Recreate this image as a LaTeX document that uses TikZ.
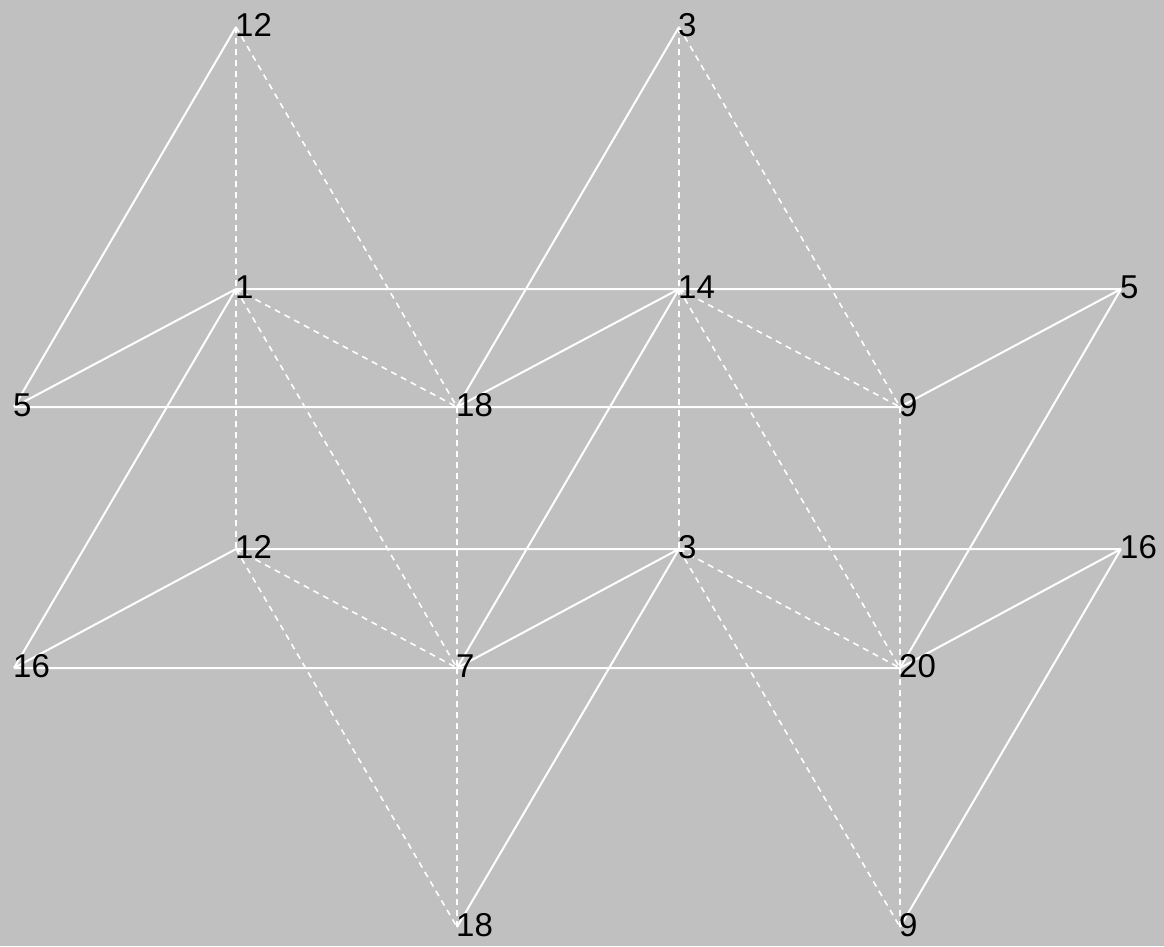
\documentclass[tikz,border=0pt]{standalone}
\usepackage{fontspec}
\setmainfont{Liberation Sans}
\definecolor{bg}{HTML}{C0C0C0}
\begin{document}
\begin{tikzpicture}[x=1pt,y=-1pt,
  solidedge/.style={draw=white,line width=2pt},
  dashedge/.style={draw=white,line width=1.6pt,dash pattern=on 6pt off 5pt},
  lab/.style={anchor=west,inner sep=0pt,font=\fontsize{33}{36}\selectfont,text=black,yshift=2pt,xshift=-1pt}]
\fill[bg] (0,0) rectangle (1164,946);
\useasboundingbox (0,0) rectangle (1164,946);
% vertices
\coordinate (A) at (236,27);
\coordinate (B) at (679,27);
\coordinate (C) at (236,289);
\coordinate (D) at (679,289);
\coordinate (E) at (1121,289);
\coordinate (F) at (14,407);
\coordinate (G) at (457,407);
\coordinate (H) at (900,407);
\coordinate (I) at (236,549);
\coordinate (J) at (679,549);
\coordinate (K) at (1121,549);
\coordinate (L) at (14,668);
\coordinate (M) at (457,668);
\coordinate (N) at (900,668);
\coordinate (O) at (457,927);
\coordinate (P) at (900,927);
% dashed edges
\path[dashedge] (A) -- (C) (A) -- (G) (B) -- (D) (B) -- (H)
  (C) -- (G) (D) -- (H) (C) -- (I) (C) -- (M) (D) -- (J) (D) -- (N)
  (G) -- (M) (H) -- (N) (I) -- (M) (I) -- (O) (J) -- (N) (J) -- (P)
  (M) -- (O) (N) -- (P);
% solid edges
\path[solidedge] (A) -- (F) (B) -- (G) (C) -- (D) (D) -- (E)
  (F) -- (G) (G) -- (H) (F) -- (C) (G) -- (D) (H) -- (E)
  (C) -- (L) (D) -- (M) (E) -- (N)
  (I) -- (J) (J) -- (K) (L) -- (M) (M) -- (N)
  (L) -- (I) (M) -- (J) (N) -- (K) (J) -- (O) (K) -- (P);
% labels
\node[lab] (lA) at (A) {12};
\node[lab] (lB) at (B) {3};
\node[lab] (lC) at (C) {1};
\node[lab] (lD) at (D) {14};
\node[lab] (lE) at (E) {5};
\node[lab] (lF) at (F) {5};
\node[lab] (lG) at (G) {18};
\node[lab] (lH) at (H) {9};
\node[lab] (lI) at (I) {12};
\node[lab] (lJ) at (J) {3};
\node[lab] (lK) at (K) {16};
\node[lab] (lL) at (L) {16};
\node[lab] (lM) at (M) {7};
\node[lab] (lN) at (N) {20};
\node[lab] (lO) at (O) {18};
\node[lab] (lP) at (P) {9};
\end{tikzpicture}
\end{document}
